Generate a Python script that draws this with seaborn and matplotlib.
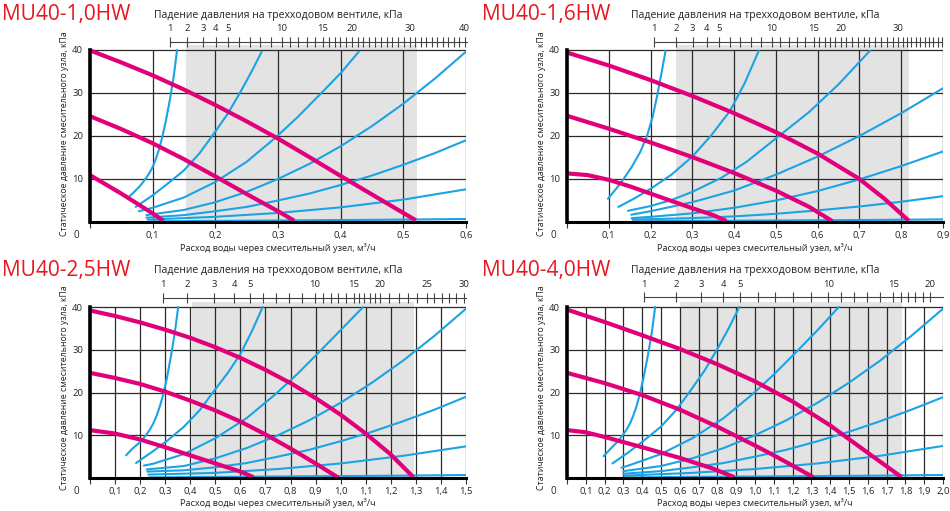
import numpy as np
import matplotlib
matplotlib.use("Agg")
import matplotlib.pyplot as plt
import seaborn as sns

sns.set_theme(style="white")
plt.rcParams['font.family'] = ['Open Sans', 'DejaVu Sans']

MAGENTA = "#e2007a"
BLUE = "#1ba3e3"
RED = "#e8161e"
SHADE = "#e3e3e3"
GRID = "#2a2a2a"

panel_names = ["MU40-1,0HW", "MU40-1,6HW", "MU40-2,5HW", "MU40-4,0HW"]
x_max = [0.6, 0.9, 1.5, 2.0]
shade_from = [0.154, 0.261, 0.406, 0.602]
shade_to = [0.522, 0.819, 1.294, 1.782]

# top scale: pressure drop over the 3-way valve, kPa, and its position on the flow axis
tl_scale_labels = ["1", "2", "3", "4", "5", "10", "15", "20", "30", "40"]
tl_scale_flow = [0.128, 0.155, 0.181, 0.201, 0.221, 0.306, 0.372, 0.418, 0.510, 0.598]
tr_scale_labels = ["1", "2", "3", "4", "5", "10", "15", "20", "30", ""]
tr_scale_flow = [0.208, 0.261, 0.301, 0.334, 0.364, 0.490, 0.591, 0.655, 0.793, 0.898]
bl_scale_labels = ["1", "2", "3", "4", "5", "10", "15", "20", "25", "30"]
bl_scale_flow = [0.290, 0.388, 0.495, 0.575, 0.638, 0.898, 1.053, 1.157, 1.343, 1.492]
br_scale_labels = ["1", "2", "3", "4", "5", "10", "15", "20"]
br_scale_flow = [0.410, 0.580, 0.713, 0.832, 0.920, 1.390, 1.736, 1.931]
scale_end = [0.602, 0.898, 1.5, 2.0]

# pump curves (static pressure, kPa vs flow, m3/h)
tl_pump_x = [[0, 0.05, 0.1, 0.15, 0.2, 0.25, 0.3, 0.35, 0.4, 0.45, 0.5, 0.52],
             [0, 0.05, 0.1, 0.15, 0.2, 0.25, 0.3, 0.326],
             [0, 0.05, 0.1, 0.117]]
tl_pump_y = [[39.9, 37.1, 34.1, 30.8, 27.2, 23.4, 19.4, 15.1, 10.7, 6.4, 2.1, 0.4],
             [24.6, 21.6, 18.3, 14.6, 10.6, 6.5, 2.5, 0.3],
             [10.9, 6.6, 2.0, 0.3]]
tr_pump_x = [[0, 0.1, 0.2, 0.3, 0.4, 0.5, 0.6, 0.7, 0.76, 0.818],
             [0, 0.1, 0.2, 0.3, 0.4, 0.5, 0.58, 0.635],
             [0, 0.05, 0.1, 0.15, 0.2, 0.25, 0.3, 0.35, 0.382]]
tr_pump_y = [[39.4, 36.4, 33.0, 29.3, 25.3, 20.9, 15.9, 10.0, 5.4, 0.3],
             [24.7, 21.7, 18.5, 15.1, 11.4, 7.3, 3.5, 0.2],
             [11.3, 10.9, 9.8, 8.3, 6.6, 4.9, 3.2, 1.6, 0.2]]
bl_pump_x = [[0, 0.1, 0.2, 0.3, 0.4, 0.5, 0.6, 0.7, 0.8, 0.9, 1.0, 1.1, 1.2, 1.29],
             [0, 0.1, 0.2, 0.3, 0.4, 0.5, 0.6, 0.7, 0.8, 0.9, 0.99],
             [0, 0.1, 0.2, 0.3, 0.4, 0.5, 0.6, 0.652]]
bl_pump_y = [[39.2, 37.9, 36.4, 34.7, 32.8, 30.6, 28.1, 25.3, 22.2, 18.7, 14.8, 10.4, 5.5, 0.2],
             [24.6, 23.4, 22.0, 20.2, 18.1, 15.8, 13.2, 10.2, 6.9, 3.4, 0.1],
             [11.2, 10.4, 9.0, 7.2, 5.3, 3.4, 1.5, 0.2]]
br_pump_x = [[0, 0.2, 0.4, 0.6, 0.8, 1.0, 1.2, 1.4, 1.6, 1.78],
             [0, 0.2, 0.4, 0.6, 0.8, 0.9, 1.0, 1.1, 1.2, 1.31],
             [0, 0.1, 0.2, 0.4, 0.6, 0.77, 0.89]]
br_pump_y = [[39.4, 36.5, 33.4, 30.2, 26.6, 22.6, 17.9, 12.3, 5.9, 0.2],
             [24.6, 22.2, 19.4, 16.0, 12.0, 9.8, 7.6, 5.3, 2.9, 0.2],
             [11.2, 10.7, 9.6, 7.2, 4.7, 2.3, 0.2]]

# system / valve curves
tl_valve_x = [[0.06, 0.07, 0.08, 0.088, 0.095, 0.1, 0.105, 0.11, 0.115, 0.121, 0.128, 0.134, 0.139],
              [0.073, 0.1, 0.123, 0.15, 0.175, 0.195, 0.22, 0.24, 0.258, 0.274],
              [0.078, 0.1, 0.15, 0.2, 0.25, 0.296, 0.33, 0.368, 0.4, 0.429],
              [0.09, 0.15, 0.2, 0.25, 0.3, 0.35, 0.4, 0.45, 0.5, 0.55, 0.6],
              [0.09, 0.15, 0.2, 0.25, 0.3, 0.35, 0.4, 0.45, 0.5, 0.55, 0.6],
              [0.092, 0.2, 0.3, 0.4, 0.5, 0.6],
              [0.097, 0.2, 0.3, 0.4, 0.5, 0.6]]
tl_valve_y = [[5.6, 6.9, 8.4, 9.9, 11.4, 12.8, 14.6, 16.8, 19.5, 23.4, 28.8, 34.2, 40.0],
              [3.5, 6.2, 8.8, 12.0, 16.0, 20.0, 25.2, 30.2, 35.0, 39.6],
              [2.5, 3.3, 5.7, 9.3, 14.0, 19.6, 24.2, 29.8, 34.6, 39.6],
              [1.6, 2.8, 4.6, 7.0, 10.0, 13.5, 17.6, 22.3, 27.5, 33.3, 39.6],
              [1.0, 1.6, 2.5, 3.5, 5.0, 6.6, 8.6, 10.8, 13.3, 16.0, 19.0],
              [0.55, 1.2, 2.1, 3.4, 5.2, 7.6],
              [0.15, 0.25, 0.35, 0.45, 0.55, 0.7]]
tr_valve_x = [[0.098, 0.115, 0.135, 0.155, 0.175, 0.191, 0.205, 0.216, 0.227, 0.236],
              [0.123, 0.16, 0.2, 0.25, 0.3, 0.345, 0.39, 0.425, 0.459],
              [0.146, 0.2, 0.25, 0.3, 0.37, 0.43, 0.51, 0.58, 0.65, 0.725],
              [0.154, 0.2, 0.3, 0.4, 0.5, 0.6, 0.7, 0.8, 0.9],
              [0.155, 0.2, 0.3, 0.4, 0.5, 0.6, 0.7, 0.8, 0.9],
              [0.157, 0.3, 0.4, 0.5, 0.6, 0.7, 0.8, 0.9],
              [0.159, 0.3, 0.5, 0.7, 0.9]]
tr_valve_y = [[5.4, 7.4, 9.9, 12.8, 16.2, 19.8, 24.4, 29.4, 35.0, 39.8],
              [3.5, 5.4, 7.7, 11.0, 15.2, 20.1, 25.8, 32.2, 39.8],
              [2.6, 3.7, 5.1, 7.0, 10.3, 14.0, 20.2, 25.6, 32.0, 39.8],
              [1.7, 2.5, 4.6, 7.3, 11.0, 15.2, 20.0, 25.3, 31.1],
              [0.9, 1.2, 2.0, 3.3, 5.0, 7.2, 9.9, 13.0, 16.4],
              [0.55, 0.9, 1.3, 1.9, 2.7, 3.6, 4.7, 6.0],
              [0.15, 0.25, 0.35, 0.45, 0.6]]
bl_valve_x = [[0.144, 0.17, 0.2, 0.222, 0.24, 0.253, 0.266, 0.279, 0.292, 0.307, 0.324, 0.339, 0.352],
              [0.184, 0.25, 0.31, 0.375, 0.44, 0.49, 0.55, 0.6, 0.645, 0.689],
              [0.215, 0.25, 0.375, 0.5, 0.625, 0.74, 0.825, 0.92, 1.0, 1.09],
              [0.226, 0.375, 0.5, 0.625, 0.75, 0.875, 1.0, 1.125, 1.25, 1.375, 1.5],
              [0.229, 0.375, 0.5, 0.625, 0.75, 0.875, 1.0, 1.125, 1.25, 1.375, 1.5],
              [0.233, 0.5, 0.75, 1.0, 1.25, 1.5],
              [0.237, 0.5, 0.75, 1.0, 1.25, 1.5]]
bl_valve_y = [[5.3, 6.9, 8.4, 9.9, 11.4, 12.8, 14.6, 16.8, 19.5, 23.4, 28.8, 34.2, 40.0],
              [3.5, 6.2, 8.8, 12.0, 16.0, 20.0, 24.6, 29.0, 34.2, 40.0],
              [2.9, 3.3, 5.6, 9.3, 14.0, 19.6, 24.2, 29.8, 34.6, 40.0],
              [2.0, 2.8, 4.6, 7.0, 10.0, 13.5, 17.6, 22.3, 27.5, 33.3, 39.6],
              [1.5, 1.8, 2.5, 3.5, 5.0, 6.6, 8.6, 10.8, 13.3, 16.0, 19.0],
              [0.8, 1.2, 2.1, 3.4, 5.2, 7.4],
              [0.15, 0.25, 0.35, 0.45, 0.55, 0.7]]
br_valve_x = [[0.195, 0.233, 0.267, 0.295, 0.318, 0.336, 0.353, 0.37, 0.387, 0.407, 0.431, 0.452, 0.469],
              [0.242, 0.333, 0.41, 0.5, 0.583, 0.65, 0.733, 0.8, 0.86, 0.917],
              [0.29, 0.333, 0.5, 0.667, 0.833, 0.987, 1.1, 1.227, 1.333, 1.446],
              [0.3, 0.5, 0.667, 0.833, 1.0, 1.167, 1.333, 1.5, 1.667, 1.833, 2.0],
              [0.3, 0.5, 0.667, 0.833, 1.0, 1.167, 1.333, 1.5, 1.667, 1.833, 2.0],
              [0.305, 0.667, 1.0, 1.333, 1.667, 2.0],
              [0.31, 0.667, 1.0, 1.333, 1.667, 2.0]]
br_valve_y = [[5.1, 6.9, 8.4, 9.9, 11.4, 12.8, 14.6, 16.8, 19.5, 23.4, 28.8, 34.2, 40.0],
              [3.4, 6.2, 8.8, 12.0, 16.0, 20.0, 25.2, 30.2, 35.0, 40.0],
              [2.4, 3.0, 5.6, 9.3, 14.0, 19.6, 24.2, 29.8, 34.6, 40.0],
              [1.6, 2.8, 4.6, 7.0, 10.0, 13.5, 17.6, 22.3, 27.5, 33.3, 39.6],
              [1.0, 1.6, 2.5, 3.5, 5.0, 6.6, 8.6, 10.8, 13.3, 16.0, 18.9],
              [0.55, 1.2, 2.1, 3.4, 5.2, 7.5],
              [0.15, 0.25, 0.35, 0.45, 0.55, 0.7]]

pump_x = [tl_pump_x, tr_pump_x, bl_pump_x, br_pump_x]
pump_y = [tl_pump_y, tr_pump_y, bl_pump_y, br_pump_y]
valve_x = [tl_valve_x, tr_valve_x, bl_valve_x, br_valve_x]
valve_y = [tl_valve_y, tr_valve_y, bl_valve_y, br_valve_y]
scale_labels = [tl_scale_labels, tr_scale_labels, bl_scale_labels, br_scale_labels]
scale_flow = [tl_scale_flow, tr_scale_flow, bl_scale_flow, br_scale_flow]

fig = plt.figure(figsize=(9.5, 5.11), dpi=100)
rects = [[0.0947, 0.5656, 0.3958, 0.3467], [0.5968, 0.5656, 0.3958, 0.3467],
         [0.0947, 0.0646, 0.3958, 0.3446], [0.5968, 0.0646, 0.3958, 0.3446]]
title_xy = [(0.002, 0.961), (0.507, 0.961), (0.002, 0.4605), (0.507, 0.4605)]
scale_loc = [1.015, 1.015, 1.022, 1.026]

for i in range(4):
    ax = fig.add_axes(rects[i])
    xm = x_max[i]
    ax.set_xlim(0, xm)
    ax.set_ylim(0, 41.2)
    ax.axvspan(shade_from[i], shade_to[i], color=SHADE, lw=0, zorder=0)

    grid_x = np.round(np.arange(0.1, xm + 0.001, 0.1), 1)
    ax.vlines(grid_x, 0, 40, color=GRID, lw=0.9, zorder=1)
    ax.hlines([10, 20, 30, 40], 0, xm, color=GRID, lw=0.9, zorder=1)

    for xs, ys in zip(valve_x[i], valve_y[i]):
        sns.lineplot(x=xs, y=ys, ax=ax, color=BLUE, linewidth=1.5,
                     estimator=None, sort=False, zorder=3)
    for xs, ys in zip(pump_x[i], pump_y[i]):
        sns.lineplot(x=xs, y=ys, ax=ax, color=MAGENTA, linewidth=3.0,
                     estimator=None, sort=False, zorder=4,
                     solid_capstyle='butt', solid_joinstyle='round')

    for s in ['top', 'right']:
        ax.spines[s].set_visible(False)
    ax.spines['left'].set_bounds(0, 40)
    ax.spines['left'].set_linewidth(2.6)
    ax.spines['left'].set_color('black')
    ax.spines['bottom'].set_bounds(0, xm)
    ax.spines['bottom'].set_linewidth(2.2)
    ax.spines['bottom'].set_color('black')
    for s in ['left', 'bottom']:
        ax.spines[s].set_zorder(5)

    xt = np.round(np.arange(0, xm + 0.001, 0.1), 1)
    ax.set_xticks(xt, labels=[""] + [f"{v:.1f}".replace(".", ",") for v in xt[1:]])
    ax.set_yticks([10, 20, 30, 40])
    ax.tick_params(axis='x', direction='out', length=4.3, width=0.8, color='#333',
                   labelsize=6.8, pad=2.5, bottom=True)
    ax.tick_params(axis='y', length=0, labelsize=6.8, pad=5)
    ax.set_xlabel("")
    ax.set_ylabel("")
    ax.annotate("0", xy=(0, 0), xytext=(-14, -14), textcoords='offset pixels',
                ha='center', va='center', fontsize=7)

    # pressure-drop scale above the chart
    flow = scale_flow[i]
    labs = scale_labels[i]
    minor = []
    nums = [int(l) if l else 40 for l in labs]
    for k in range(len(flow) - 1):
        n = nums[k + 1] - nums[k] - 1
        if n > 0:
            minor.extend(np.linspace(flow[k], flow[k + 1], n + 2)[1:-1])
    sec = ax.secondary_xaxis(scale_loc[i])
    sec.set_ticks(flow, labels=labs)
    sec.set_ticks(minor, minor=True)
    sec.tick_params(which='both', direction='inout', length=6.5, width=0.8,
                    color='#444', labelsize=6.8, pad=3)
    sec.spines['top'].set_bounds(flow[0], scale_end[i])
    sec.spines['top'].set_color('#444')
    sec.spines['top'].set_linewidth(0.8)

    bb = rects[i]
    cx = bb[0] + bb[2] / 2
    top_px = 15 if i < 2 else 270
    fig.text(cx, 1 - top_px / 511, "Падение давления на трехходовом вентиле, кПа",
             ha='center', va='center', fontsize=7.5, color='#222')
    xl_px = 248 if i < 2 else 503
    fig.text(cx, 1 - xl_px / 511, "Расход воды через смесительный узел, м³/ч",
             ha='center', va='center', fontsize=6.6, color='#222')
    yl_x = bb[0] - 25 / 950
    yl_px = 134 if i < 2 else 388
    fig.text(yl_x, 1 - yl_px / 511, "Статическое давление смесительного узла, кПа",
             ha='center', va='center', rotation=90, fontsize=6.3, color='#222')
    fig.text(title_xy[i][0], title_xy[i][1], panel_names[i], ha='left', va='baseline',
             fontsize=15, color=RED)

fig.savefig("out.png", dpi=100)
